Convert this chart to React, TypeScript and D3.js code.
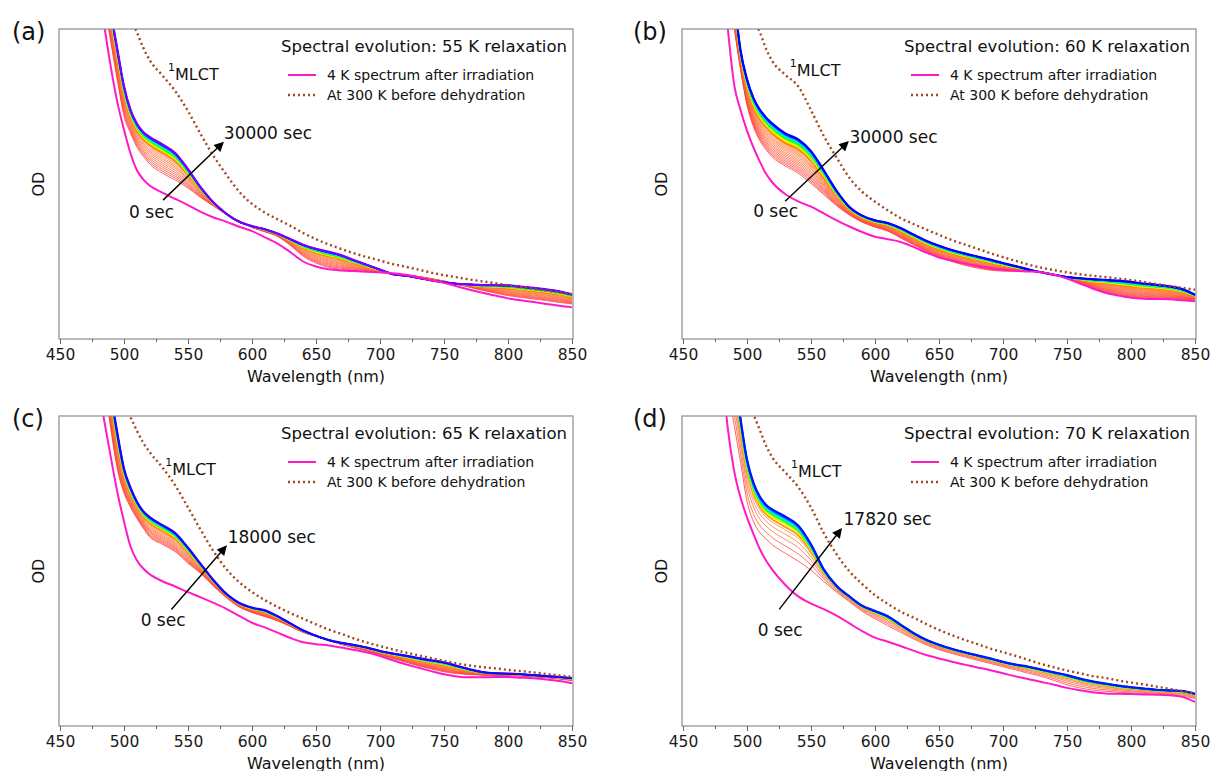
import { useEffect, useRef } from 'react';
import * as d3 from 'd3';

// shared wavelength grid (nm) for every spectrum below
const WAVELENGTHS = [
  480, 485, 490, 495, 500, 505, 510, 515, 520, 530, 540, 550, 560, 570, 580, 590, 600, 610, 620, 630, 640,
  650, 660, 670, 680, 690, 700, 710, 720, 730, 740, 750, 760, 770, 780, 790, 800, 810, 820, 830, 840, 850,
];

// (a) 55 K
const A_4K = [
  1.15, 1.0, 0.87, 0.76, 0.675, 0.6, 0.545, 0.515, 0.495, 0.472, 0.452, 0.432, 0.41, 0.392, 0.378, 0.362, 0.348,
  0.328, 0.308, 0.28, 0.25, 0.234, 0.225, 0.221, 0.219, 0.217, 0.215, 0.212, 0.207, 0.199, 0.19, 0.181, 0.17,
  0.159, 0.149, 0.14, 0.131, 0.125, 0.119, 0.113, 0.107, 0.102,
];
const A_300K = [
  1.5, 1.35, 1.24, 1.15, 1.09, 1.035, 0.99, 0.94, 0.9, 0.85, 0.8, 0.735, 0.66, 0.59, 0.53, 0.475, 0.436, 0.408,
  0.386, 0.365, 0.342, 0.322, 0.305, 0.29, 0.276, 0.264, 0.253, 0.242, 0.233, 0.224, 0.214, 0.206, 0.199, 0.192,
  0.186, 0.18, 0.173, 0.167, 0.162, 0.156, 0.15, 0.144,
];
const A_FIRST = [
  1.25, 1.08, 0.95, 0.83, 0.72, 0.665, 0.62, 0.59, 0.565, 0.535, 0.513, 0.487, 0.456, 0.429, 0.402, 0.381, 0.36,
  0.346, 0.331, 0.302, 0.267, 0.245, 0.231, 0.225, 0.22, 0.217, 0.214, 0.211, 0.207, 0.202, 0.195, 0.187, 0.177,
  0.167, 0.157, 0.148, 0.14, 0.134, 0.129, 0.124, 0.118, 0.113,
];
const A_LAST = [
  1.4, 1.2, 1.05, 0.93, 0.815, 0.74, 0.695, 0.668, 0.652, 0.628, 0.6, 0.548, 0.489, 0.44, 0.404, 0.378, 0.364,
  0.354, 0.34, 0.322, 0.304, 0.291, 0.281, 0.27, 0.254, 0.239, 0.224, 0.209, 0.204, 0.197, 0.189, 0.183, 0.178,
  0.176, 0.174, 0.174, 0.173, 0.169, 0.165, 0.16, 0.154, 0.144,
];
const A_PROGRESS = [
  0, 0.07, 0.14, 0.21, 0.28, 0.35, 0.42, 0.48, 0.54, 0.6, 0.65, 0.7, 0.74, 0.78, 0.81, 0.84, 0.87, 0.89, 0.91,
  0.93, 0.95, 0.965, 0.98, 0.99, 1,
];

// (b) 60 K
const B_4K = [
  1.2, 1.0, 0.82, 0.738, 0.672, 0.618, 0.572, 0.532, 0.504, 0.467, 0.444, 0.427, 0.405, 0.383, 0.363, 0.345, 0.33,
  0.322, 0.313, 0.297, 0.279, 0.263, 0.253, 0.244, 0.236, 0.229, 0.224, 0.22, 0.218, 0.215, 0.207, 0.195, 0.179,
  0.163, 0.149, 0.14, 0.133, 0.13, 0.129, 0.128, 0.125, 0.122,
];
const B_300K = [
  1.4, 1.3, 1.22, 1.15, 1.08, 1.03, 0.99, 0.935, 0.895, 0.852, 0.815, 0.738, 0.655, 0.585, 0.52, 0.475, 0.443,
  0.415, 0.39, 0.371, 0.353, 0.336, 0.319, 0.305, 0.291, 0.277, 0.264, 0.252, 0.24, 0.23, 0.222, 0.215, 0.209,
  0.204, 0.2, 0.195, 0.19, 0.184, 0.177, 0.171, 0.165, 0.159,
];
const B_FIRST = [
  1.35, 1.17, 1.005, 0.868, 0.755, 0.685, 0.64, 0.61, 0.586, 0.558, 0.535, 0.502, 0.466, 0.43, 0.4, 0.377, 0.361,
  0.348, 0.326, 0.304, 0.283, 0.263, 0.25, 0.238, 0.229, 0.222, 0.219, 0.218, 0.218, 0.215, 0.208, 0.198, 0.181,
  0.165, 0.152, 0.143, 0.136, 0.133, 0.131, 0.13, 0.128, 0.127,
];
const B_LAST = [
  1.5, 1.3, 1.1, 0.93, 0.838, 0.778, 0.74, 0.714, 0.694, 0.663, 0.644, 0.606, 0.544, 0.478, 0.426, 0.398, 0.383,
  0.374, 0.358, 0.337, 0.317, 0.301, 0.287, 0.276, 0.266, 0.256, 0.245, 0.235, 0.224, 0.215, 0.207, 0.2, 0.196,
  0.193, 0.191, 0.188, 0.184, 0.179, 0.175, 0.17, 0.161, 0.143,
];
const B_PROGRESS = [
  0, 0.05, 0.1, 0.15, 0.2, 0.25, 0.3, 0.35, 0.4, 0.45, 0.5, 0.54, 0.58, 0.62, 0.66, 0.7, 0.73, 0.76, 0.79, 0.82,
  0.85, 0.87, 0.89, 0.91, 0.93, 0.95, 0.965, 0.98, 0.99, 1,
];

// (c) 65 K
const C_4K = [
  1.09, 0.975, 0.86, 0.75, 0.66, 0.58, 0.535, 0.508, 0.49, 0.467, 0.45, 0.432, 0.415, 0.397, 0.378, 0.355, 0.333,
  0.318, 0.301, 0.284, 0.27, 0.264, 0.26, 0.253, 0.245, 0.237, 0.226, 0.212, 0.199, 0.188, 0.177, 0.167, 0.16,
  0.157, 0.157, 0.158, 0.158, 0.156, 0.154, 0.15, 0.145, 0.138,
];
const C_300K = [
  1.3, 1.22, 1.15, 1.09, 1.04, 0.997, 0.953, 0.914, 0.884, 0.834, 0.776, 0.705, 0.632, 0.563, 0.506, 0.464, 0.432,
  0.406, 0.384, 0.364, 0.346, 0.328, 0.311, 0.297, 0.282, 0.269, 0.258, 0.247, 0.237, 0.228, 0.219, 0.21, 0.202,
  0.195, 0.19, 0.186, 0.181, 0.177, 0.173, 0.168, 0.163, 0.159,
];
const C_FIRST = [
  1.3, 1.1, 0.95, 0.825, 0.752, 0.706, 0.67, 0.638, 0.61, 0.586, 0.562, 0.525, 0.492, 0.451, 0.414, 0.384, 0.366,
  0.353, 0.339, 0.321, 0.302, 0.289, 0.276, 0.263, 0.252, 0.242, 0.23, 0.218, 0.206, 0.194, 0.184, 0.175, 0.169,
  0.166, 0.164, 0.163, 0.162, 0.161, 0.159, 0.156, 0.152, 0.147,
];
const C_LAST = [
  1.45, 1.25, 1.07, 0.94, 0.83, 0.77, 0.724, 0.693, 0.674, 0.648, 0.622, 0.575, 0.522, 0.47, 0.426, 0.397, 0.382,
  0.373, 0.354, 0.331, 0.308, 0.291, 0.277, 0.268, 0.261, 0.253, 0.242, 0.234, 0.227, 0.219, 0.212, 0.205, 0.194,
  0.183, 0.174, 0.17, 0.169, 0.167, 0.164, 0.161, 0.158, 0.154,
];
const C_PROGRESS = [
  0, 0.06, 0.12, 0.18, 0.24, 0.3, 0.36, 0.42, 0.48, 0.54, 0.6, 0.65, 0.7, 0.74, 0.78, 0.82, 0.85, 0.88, 0.91,
  0.93, 0.95, 0.97, 0.985, 1,
];

// (d) 70 K
const D_4K = [
  1.17, 0.96, 0.822, 0.736, 0.673, 0.62, 0.571, 0.533, 0.503, 0.455, 0.418, 0.395, 0.377, 0.356, 0.331, 0.306,
  0.285, 0.272, 0.258, 0.243, 0.229, 0.218, 0.207, 0.198, 0.189, 0.18, 0.17, 0.16, 0.151, 0.142, 0.133, 0.123,
  0.115, 0.109, 0.105, 0.104, 0.103, 0.102, 0.101, 0.099, 0.094, 0.078,
];
const D_300K = [
  1.4, 1.28, 1.18, 1.1, 1.05, 1.005, 0.955, 0.903, 0.865, 0.818, 0.771, 0.705, 0.622, 0.554, 0.499, 0.458, 0.422,
  0.394, 0.369, 0.35, 0.329, 0.31, 0.293, 0.278, 0.264, 0.25, 0.238, 0.226, 0.213, 0.2, 0.189, 0.179, 0.17, 0.161,
  0.155, 0.147, 0.14, 0.134, 0.127, 0.12, 0.113, 0.105,
];
const D_FIRST = [
  1.22, 1.09, 0.97, 0.85, 0.725, 0.66, 0.624, 0.603, 0.584, 0.557, 0.532, 0.503, 0.466, 0.432, 0.401, 0.37, 0.346,
  0.324, 0.302, 0.281, 0.262, 0.246, 0.234, 0.223, 0.212, 0.202, 0.191, 0.181, 0.17, 0.16, 0.147, 0.133, 0.123,
  0.116, 0.112, 0.109, 0.107, 0.105, 0.103, 0.1, 0.096, 0.089,
];
const D_LAST = [
  1.5, 1.3, 1.14, 0.99, 0.86, 0.785, 0.74, 0.713, 0.698, 0.675, 0.647, 0.586, 0.505, 0.452, 0.418, 0.388, 0.371,
  0.354, 0.327, 0.3, 0.278, 0.262, 0.249, 0.238, 0.228, 0.218, 0.207, 0.198, 0.191, 0.182, 0.173, 0.164, 0.153,
  0.144, 0.137, 0.13, 0.125, 0.121, 0.117, 0.115, 0.113, 0.104,
];
const D_PROGRESS = [0, 0.2, 0.38, 0.52, 0.64, 0.72, 0.78, 0.83, 0.87, 0.9, 0.925, 0.945, 0.96, 0.975, 0.99, 1];

const PANEL_LABELS = ['(a)', '(b)', '(c)', '(d)'];
const TITLES = [
  'Spectral evolution: 55 K relaxation',
  'Spectral evolution: 60 K relaxation',
  'Spectral evolution: 65 K relaxation',
  'Spectral evolution: 70 K relaxation',
];
const END_LABELS = ['30000 sec', '30000 sec', '18000 sec', '17820 sec'];
const START_LABEL = '0 sec';
const LEGEND_LABELS = ['4 K spectrum after irradiation', 'At 300 K before dehydration'];
const X_TICKS = [450, 500, 550, 600, 650, 700, 750, 800, 850];
const X_MINOR = [475, 525, 575, 625, 675, 725, 775, 825];

// layout: boxes and annotation anchors (in data units)
const BOX_X = [
  [59, 573],
  [682, 1196],
];
const BOX_Y = [
  [29, 339],
  [416, 726],
];
const NOTES = [
  { mlct: [534.4, 0.855], end: [578, 0.665], start: [504, 0.41], from: [530.5, 0.448], to: [577, 0.632] },
  { mlct: [533.4, 0.867], end: [580, 0.652], start: [504.8, 0.412], from: [529.8, 0.444], to: [578.5, 0.634] },
  { mlct: [532.2, 0.828], end: [581, 0.611], start: [513, 0.342], from: [537, 0.376], to: [579.4, 0.578] },
  { mlct: [534.3, 0.824], end: [575.4, 0.667], start: [508.4, 0.31], from: [525.2, 0.376], to: [573.3, 0.634] },
];
const END_HUE = [268, 240, 248, 235];

const FONT = '"DejaVu Sans", Verdana, sans-serif';
const MAGENTA = '#ff1ac8';
const BROWN = '#a3461f';

export default function App() {
  const ref = useRef<SVGSVGElement>(null);

  useEffect(() => {
    document.body.style.margin = '0';
    if (!ref.current) return;
    const svg = d3.select(ref.current);
    svg.selectAll('*').remove();

    const defs = svg.append('defs');
    defs
      .append('marker')
      .attr('id', 'arrowhead')
      .attr('viewBox', '0 0 10 10')
      .attr('refX', 8)
      .attr('refY', 5)
      .attr('markerWidth', 8)
      .attr('markerHeight', 7)
      .attr('orient', 'auto')
      .append('path')
      .attr('d', 'M0,0 L10,5 L0,10 z')
      .attr('fill', '#000');

    const panels = [
      { fourK: A_4K, rt: A_300K, first: A_FIRST, last: A_LAST, progress: A_PROGRESS },
      { fourK: B_4K, rt: B_300K, first: B_FIRST, last: B_LAST, progress: B_PROGRESS },
      { fourK: C_4K, rt: C_300K, first: C_FIRST, last: C_LAST, progress: C_PROGRESS },
      { fourK: D_4K, rt: D_300K, first: D_FIRST, last: D_LAST, progress: D_PROGRESS },
    ];

    panels.forEach((p, i) => {
      const [x0, x1] = BOX_X[i % 2];
      const [y0, y1] = BOX_Y[Math.floor(i / 2)];
      const x = d3.scaleLinear().domain([450, 850]).range([x0 + 1, x1 - 1]);
      const y = d3.scaleLinear().domain([0, 1]).range([y1, y0]);
      const g = svg.append('g');

      defs
        .append('clipPath')
        .attr('id', `clip-${i}`)
        .append('rect')
        .attr('x', x0)
        .attr('y', y0)
        .attr('width', x1 - x0)
        .attr('height', y1 - y0);

      const line = d3
        .line<number>()
        .x((_, k) => x(WAVELENGTHS[k]))
        .y((d) => y(d))
        .curve(d3.curveMonotoneX);

      const plot = g.append('g').attr('clip-path', `url(#clip-${i})`);

      // rainbow time series: red (0 sec) -> violet/blue (final)
      const hue = d3.scaleLinear().domain([0, 0.7, 0.78, 0.86, 0.93, 1]).range([0, 25, 55, 120, 190, END_HUE[i]]);
      p.progress.forEach((f, j) => {
        const vals = p.first.map((v, k) => v + f * (p.last[k] - v));
        const early = f < 0.7;
        const last = j === p.progress.length - 1;
        plot
          .append('path')
          .attr('d', line(vals))
          .attr('fill', 'none')
          .attr('stroke', d3.hsl(hue(f), 1, early ? 0.6 : 0.5).toString())
          .attr('stroke-opacity', early ? 0.85 : 1)
          .attr('stroke-width', last ? 2.2 : early ? 0.9 : 1.5);
      });

      plot
        .append('path')
        .attr('d', line(p.fourK))
        .attr('fill', 'none')
        .attr('stroke', MAGENTA)
        .attr('stroke-width', 2);

      plot
        .append('path')
        .attr('d', line(p.rt))
        .attr('fill', 'none')
        .attr('stroke', BROWN)
        .attr('stroke-width', 2.4)
        .attr('stroke-dasharray', '2 3');

      // frame
      g.append('rect')
        .attr('x', x0)
        .attr('y', y0)
        .attr('width', x1 - x0)
        .attr('height', y1 - y0)
        .attr('fill', 'none')
        .attr('stroke', '#8c8c8c')
        .attr('stroke-width', 1.2);

      // x axis
      const ax = g
        .append('g')
        .attr('transform', `translate(0,${y1})`)
        .call(d3.axisBottom(x).tickValues(X_TICKS).tickSize(5).tickPadding(5).tickFormat(d3.format('d')));
      ax.select('.domain').remove();
      ax.selectAll('line').attr('stroke', '#666');
      ax.selectAll('text').attr('fill', '#1a1a1a').style('font-family', FONT).style('font-size', '15.5px');
      const minor = g
        .append('g')
        .attr('transform', `translate(0,${y1})`)
        .call(d3.axisBottom(x).tickValues(X_MINOR).tickSize(3).tickFormat(() => ''));
      minor.select('.domain').remove();
      minor.selectAll('line').attr('stroke', '#666');

      const txt = (tx: number, ty: number, s: string, size: number, anchor = 'start') =>
        g
          .append('text')
          .attr('x', tx)
          .attr('y', ty)
          .attr('text-anchor', anchor)
          .attr('dominant-baseline', 'central')
          .attr('fill', '#111')
          .style('font-family', FONT)
          .style('font-size', `${size}px`)
          .text(s);

      txt((x0 + x1) / 2, y1 + 37, 'Wavelength (nm)', 16, 'middle');
      txt(x0 - 21, (y0 + y1) / 2, 'OD', 16, 'middle').attr(
        'transform',
        `rotate(-90,${x0 - 21},${(y0 + y1) / 2})`
      );
      txt(i % 2 === 0 ? 12 : 633, y0 + 3, PANEL_LABELS[i], 24);

      // title + legend
      txt(x1 - 6, y0 + 17, TITLES[i], 16.5, 'end');
      const ly = [y0 + 46, y0 + 66];
      g.append('line')
        .attr('x1', x1 - 285)
        .attr('x2', x1 - 257)
        .attr('y1', ly[0])
        .attr('y2', ly[0])
        .attr('stroke', MAGENTA)
        .attr('stroke-width', 2);
      g.append('line')
        .attr('x1', x1 - 285)
        .attr('x2', x1 - 257)
        .attr('y1', ly[1])
        .attr('y2', ly[1])
        .attr('stroke', BROWN)
        .attr('stroke-width', 2.4)
        .attr('stroke-dasharray', '2 3');
      LEGEND_LABELS.forEach((s, k) => txt(x1 - 246, ly[k], s, 14));

      // annotations
      const n = NOTES[i];
      const ml = g
        .append('text')
        .attr('x', x(n.mlct[0]))
        .attr('y', y(n.mlct[1]) + 6)
        .attr('fill', '#111')
        .style('font-family', FONT)
        .style('font-size', '16px');
      ml.append('tspan').attr('dy', -9).style('font-size', '11px').text('1');
      ml.append('tspan').attr('dy', 9).text('MLCT');
      txt(x(n.end[0]), y(n.end[1]), END_LABELS[i], 17);
      txt(x(n.start[0]), y(n.start[1]), START_LABEL, 17);
      g.append('line')
        .attr('x1', x(n.from[0]))
        .attr('y1', y(n.from[1]))
        .attr('x2', x(n.to[0]))
        .attr('y2', y(n.to[1]))
        .attr('stroke', '#000')
        .attr('stroke-width', 1.4)
        .attr('marker-end', 'url(#arrowhead)');
    });
  }, []);

  return (
    <svg
      ref={ref}
      width={1211}
      height={771}
      style={{ position: 'absolute', left: 0, top: 0, background: '#fff' }}
    />
  );
}
